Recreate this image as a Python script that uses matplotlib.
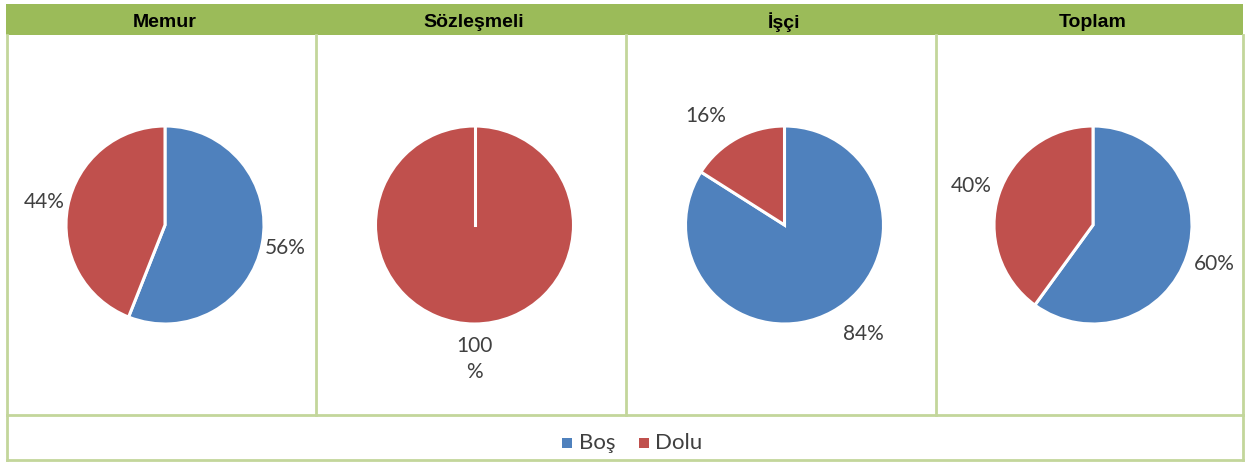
import matplotlib.pyplot as plt
from matplotlib.patches import Rectangle
import numpy as np

# chart data
groups = ["Memur", "Sözleşmeli", "İşçi", "Toplam"]
series = ["Boş", "Dolu"]
bos = [56, 0, 84, 60]
dolu = [44, 100, 16, 40]
pct_labels = [["56%", "44%"], ["", "100\n%"], ["84%", "16%"], ["60%", "40%"]]

BLUE = "#4F81BD"
RED = "#C0504D"
HEAD = "#9BBB59"
LINE = "#C3D69B"
TXT = "#404040"

W, H = 1248, 462
fig = plt.figure(figsize=(W / 100, H / 100), dpi=100)

def fx(x):
    return x / W

def fy(y):
    return 1 - y / H

# panel edges in pixels
xs = [7, 316, 626, 936, 1243]
top_head, bot_head, bot_panel, bot_leg = 4, 35, 415, 460

bg = fig.add_axes([0, 0, 1, 1])
bg.set_xlim(0, W)
bg.set_ylim(H, 0)
bg.axis("off")
bg.add_patch(Rectangle((6, top_head), 1237, bot_head - top_head, color=HEAD, lw=0))
for x in xs:
    bg.plot([x, x], [bot_head, bot_panel], color=LINE, lw=2)
bg.plot([xs[0], xs[0]], [bot_panel, bot_leg], color=LINE, lw=2)
bg.plot([xs[-1], xs[-1]], [bot_panel, bot_leg], color=LINE, lw=2)
bg.plot([xs[0], xs[-1]], [bot_panel, bot_panel], color=LINE, lw=2)
bg.plot([xs[0], xs[-1]], [bot_leg, bot_leg], color=LINE, lw=2)

# best-fit label placement differs per pie in the original
label_r = [1.24, 1.30, 1.36, 1.29]
label_rot = [0, 0, 7, 0]
radius_px = 99

head_font = ["Liberation Sans Narrow", "Liberation Sans"]

for i, g in enumerate(groups):
    x0, x1 = xs[i], xs[i + 1]
    bg.text((x0 + x1) / 2 + 3, (top_head + bot_head) / 2 + 3, g, ha="center", va="center",
            fontsize=14, fontweight="bold", family=head_font, color="black")

    cx = (x0 + x1) / 2 + 3.5
    cy = 225
    size = 2 * radius_px
    ax = fig.add_axes([fx(cx - radius_px), fy(cy + radius_px), size / W, size / H])
    vals = [bos[i], dolu[i]]
    wedges, _ = ax.pie(vals, colors=[BLUE, RED], startangle=90, counterclock=False,
                       wedgeprops=dict(edgecolor="white", linewidth=2.2))
    ax.set_xlim(-1, 1)
    ax.set_ylim(-1, 1)
    ax.set_aspect("auto")

    for w, v, lab in zip(wedges, vals, pct_labels[i]):
        if v == 0:
            # zero slice still shows its white separator
            a = np.deg2rad(w.theta1)
            ax.plot([0, np.cos(a)], [0, np.sin(a)], color="white", lw=2.2)
        if not lab:
            continue
        ang = np.deg2rad((w.theta1 + w.theta2) / 2 + label_rot[i])
        r = label_r[i]
        va = "center"
        if "\n" in lab:
            r, va = 1.12, "top"
        ax.text(r * np.cos(ang), r * np.sin(ang), lab, ha="center", va=va,
                fontsize=15, family="Lato", color=TXT, linespacing=1.4, clip_on=False)

# legend row
ly = 443
bg.add_patch(Rectangle((562, ly - 5), 10, 10, color=BLUE, lw=0))
bg.text(579, ly, series[0], va="center", ha="left", fontsize=16, family="Lato", color=TXT)
bg.add_patch(Rectangle((639, ly - 5), 10, 10, color=RED, lw=0))
bg.text(655, ly, series[1], va="center", ha="left", fontsize=16, family="Lato", color=TXT)

fig.savefig("out.png", dpi=100)
